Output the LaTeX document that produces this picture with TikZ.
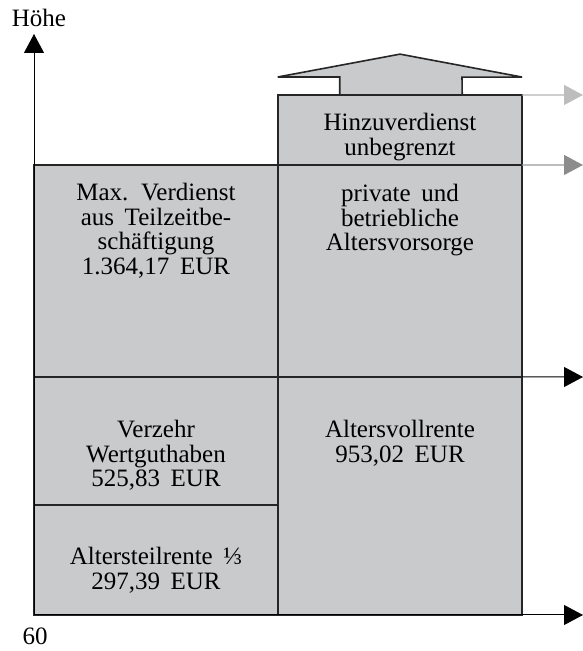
\documentclass[tikz,border=0pt]{standalone}
\usepackage{fontspec}
\setmainfont[WordSpace={1.7}]{Liberation Serif}
\usetikzlibrary{positioning,arrows.meta}
\definecolor{boxgray}{HTML}{C9CACC}
\definecolor{edgegray}{HTML}{262626}
\definecolor{lightline}{HTML}{B3B3B3}
\definecolor{lighthead}{HTML}{BDBDBD}
\definecolor{midline}{HTML}{9A9A9A}
\definecolor{midhead}{HTML}{8C8C8C}
\tikzset{
  feld/.style={draw=edgegray, fill=boxgray, line width=1.8bp, minimum width=244bp,
    outer sep=0pt, inner sep=0pt},
  pfeil/.style={draw=edgegray, fill=boxgray, line width=1.6bp, line join=miter},
  txt/.style={align=center, inner sep=0pt, font=\fontsize{25bp}{24.5bp}\selectfont},
  achse/.style={line width=1bp, -{Triangle[length=19bp,width=20bp]}},
}

\begin{document}
\begin{tikzpicture}[x=1bp,y=1bp]
\useasboundingbox (0,0) rectangle (583,651);
% Ursprung und Achsenenden
\coordinate (O) at (34,36);
\coordinate (ytop) at (34,617);
\coordinate (xend) at (583,36);
\coordinate (r1) at (583,556);
\coordinate (r2) at (583,486);
\coordinate (r3) at (583,274);

% linke Saeule
\node[feld, minimum height=110bp, anchor=south west] (atr) at (O) {};
\node[feld, minimum height=128bp, above=0pt of atr] (vw) {};
\node[feld, minimum height=212bp, above=0pt of vw] (mv) {};
% rechte Saeule
\node[feld, minimum height=238bp, anchor=south west] (avr) at (atr.south east) {};
\node[feld, minimum height=212bp, above=0pt of avr] (pav) {};
\node[feld, minimum height=70bp, above=0pt of pav] (hz) {};

% Pfeil nach oben
\draw[pfeil] ([xshift=62]hz.north west) -- ++(0,18) -- ++(-62,0)
  -- ([yshift=41]hz.north) -- ([yshift=18]hz.north east) -- ++(-60,0)
  -- ([xshift=-60]hz.north east) -- cycle;

% Texte
\node[txt, below=18bp of mv.north] (mvt)
  {Max. Verdienst\\aus Teilzeitbe-\\schäftigung\\1.364,17 EUR};
\node[txt, below=43bp of vw.north] (vwt) {Verzehr\\Wertguthaben\\525,83 EUR};
\node[txt, below=42bp of atr.north] (atrt) {Altersteilrente ⅓\\297,39 EUR};
\node[txt, below=19bp of pav.north] (pavt) {private und\\betriebliche\\Altersvorsorge};
\node[txt, below=43bp of avr.north] (avrt) {Altersvollrente\\953,02 EUR};
\node[txt, below=18bp of hz.north] (hzt) {Hinzuverdienst\\unbegrenzt};

% Achsen
\draw[achse] (O) -- (ytop);
\draw[achse] (O) -- (xend);
\draw[achse] (avr.north east) -- (r3);
\draw[line width=1.2bp, draw=lightline, -{Triangle[length=19bp,width=20bp,color=lighthead]}]
  (hz.north east) -- (r1);
\draw[line width=1.2bp, draw=midline, -{Triangle[length=19bp,width=20bp,color=midhead]}]
  (hz.south east) -- (r2);

\node[txt, anchor=base] (hoehe) at (39,624) {Höhe};
\node[txt, anchor=base] (sechzig) at (35,6) {60};
\end{tikzpicture}
\end{document}
